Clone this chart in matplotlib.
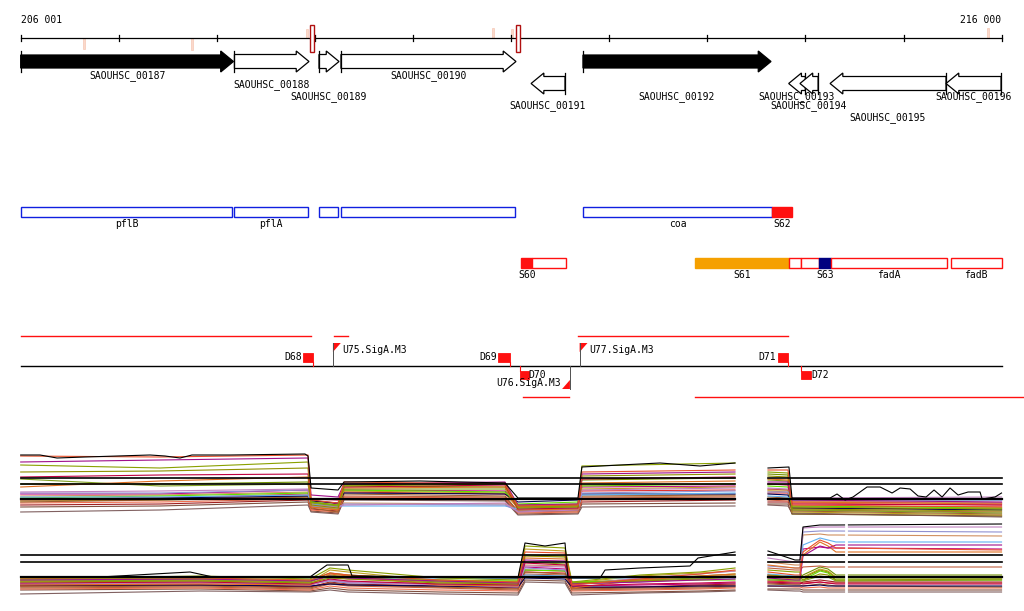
import matplotlib
matplotlib.use('Agg')
import matplotlib.pyplot as plt
from matplotlib.patches import Polygon, Rectangle

plt.rcParams['font.family'] = 'DejaVu Sans Mono'
plt.rcParams['font.size'] = 7

# ==========================================
# DATA (genome coordinates, bp)
# ==========================================
region_start, region_end = 206001, 216000
ruler_labels = ['206 001', '216 000']

# annotated genes: name, start, end, strand, filled, row, label tier
gene_names = ['SAOUHSC_00187', 'SAOUHSC_00188', 'SAOUHSC_00189', 'SAOUHSC_00190',
              'SAOUHSC_00191', 'SAOUHSC_00192', 'SAOUHSC_00193', 'SAOUHSC_00194',
              'SAOUHSC_00195', 'SAOUHSC_00196']
gene_start = [206001, 208180, 209042, 209266, 211204, 211733, 213830, 213945, 214252, 215434]
gene_end = [208170, 208940, 209246, 211050, 211550, 213650, 214000, 214130, 215434, 215995]
gene_strand = [1, 1, 1, 1, -1, 1, -1, -1, -1, -1]
gene_filled = [True, False, False, False, False, True, False, False, False, False]
gene_row = [0, 0, 0, 0, 1, 0, 1, 1, 1, 1]
gene_tier = [0, 1, 2, 0, 3, 2, 2, 3, 4, 2]

# ruler marks (light = weak signals, dark = strong)
weak_pos = [206646, 207747, 208920, 210817, 211010, 215863]
weak_height = [-11, -12, 9, 10, 9, 10]
strong_start = [208950, 211050]
strong_end = [208991, 211091]

# operon / annotation boxes
box1_start = [206001, 208172, 209039, 209266, 211737, 213663]
box1_end = [208159, 208930, 209239, 211044, 213663, 213869]
box1_label = ['pflB', 'pflA', '', '', 'coa', 'S62']
box1_fill = ['white', 'white', 'white', 'white', 'white', '#ff1010']
box1_edge = ['#1020e0', '#1020e0', '#1020e0', '#1020e0', '#1020e0', '#ff1010']

box2_start = [211104, 211217, 212875, 213833, 213956, 214136, 214261, 215481]
box2_end = [211217, 211558, 213833, 213956, 214136, 214261, 215444, 216000]
box2_label = ['S60', '', 'S61', '', '', 'S63', 'fadA', 'fadB']
box2_fill = ['#ff1010', 'white', '#f5a000', 'white', 'white', '#000080', 'white', 'white']

# transcription units
tu_top = [(206001, 208960), (209200, 209340), (211680, 213820)]
tu_bottom = [(211120, 211590), (212870, 216229)]

# terminators / promoters
term_names = ['D68', 'D69', 'D70', 'D71', 'D72']
term_start = [208880, 210870, 211090, 213720, 213960]
term_end = [208980, 210990, 211180, 213823, 214060]
term_side = [1, 1, -1, 1, -1]
prom_names = ['U75.SigA.M3', 'U76.SigA.M3', 'U77.SigA.M3']
prom_pos = [209184, 211600, 211699]
prom_strand = [1, -1, 1]

# expression profiles (plotted on inverted track scale)
line_colors = ['#000000', '#e8502a', '#a0108a', '#8aa000', '#909000', '#c00040',
               '#e07020', '#80a020', '#c080c0', '#9090d0', '#60b0f0', '#60e000',
               '#000050', '#a06030', '#c06040', '#c0a020', '#f07050', '#a02020',
               '#d09060', '#805040', '#806060', '#e03030', '#c00080', '#709000']

a_left_x = [206001, 207421, 208930, 208961, 209236, 209297, 210938, 211070, 211682, 211722, 213283]
a_left = [
    None,
    [456, 457, 455, 500, 503, 482, 484, 506, 505, 472, 470],
    [462, 460, 458, 495, 497, 484, 482, 505, 504, 474, 472],
    [465, 468, 462, 502, 505, 485, 483, 507, 506, 466, 463],
    [472, 471, 468, 505, 508, 486, 484, 508, 507, 476, 474],
    [477, 475, 474, 499, 500, 487, 485, 509, 508, 479, 477],
    [487, 481, 477, 507, 510, 488, 487, 510, 509, 483, 481],
    [479, 486, 484, 503, 506, 489, 489, 506, 505, 485, 484],
    [492, 491, 489, 505, 507, 505, 503, 512, 510, 490, 488],
    [493, 493, 490, 506, 508, 504, 505, 511, 509, 493, 491],
    [497, 497, 495, 504, 506, 506, 506, 509, 508, 495, 493],
    [498, 496, 493, 502, 505, 490, 492, 504, 502, 486, 484],
    [499, 498, 496, 501, 503, 493, 494, 502, 500, 494, 494],
    [502, 500, 497, 508, 512, 494, 496, 511, 510, 496, 495],
    [500, 499, 496, 507, 510, 496, 497, 512, 511, 498, 497],
    [501, 500, 497, 506, 509, 491, 493, 508, 507, 489, 487],
    [503, 502, 499, 510, 512, 497, 498, 513, 512, 500, 499],
    [505, 504, 500, 509, 511, 498, 499, 511, 510, 502, 500],
    [496, 495, 492, 506, 509, 503, 504, 510, 509, 497, 496],
    [507, 506, 502, 511, 513, 499, 500, 514, 513, 504, 503],
    [512, 510, 505, 512, 514, 500, 501, 515, 514, 507, 506],
    [499, 498, 494, 504, 507, 492, 494, 507, 506, 491, 490],
    [494, 494, 490, 500, 504, 490, 491, 506, 505, 487, 486],
    [484, 484, 482, 502, 506, 486, 487, 505, 504, 480, 478],
]
a_left_black_x = [206001, 206198, 206371, 206656, 207319, 207472, 207625, 207747, 208134,
                  208899, 208930, 208961, 209236, 209297, 210072, 210938, 211070, 211682,
                  211722, 212110, 212518, 212926, 213283]
a_left_black = [455, 455, 458, 457, 455, 456, 458, 455, 455, 454, 456, 488, 490, 482,
                481, 483, 498, 498, 467, 465, 463, 466, 463]

a_right_x = [213619, 213823, 213864, 216000]
a_right = [
    None,
    [470, 470, 505, 507],
    [482, 482, 500, 502],
    [472, 473, 507, 509],
    [476, 477, 509, 511],
    [484, 485, 504, 505],
    [479, 480, 502, 504],
    [480, 481, 510, 513],
    [488, 489, 498, 497],
    [492, 492, 499, 500],
    [496, 497, 500, 500],
    [486, 487, 506, 508],
    [494, 495, 508, 510],
    [497, 498, 511, 514],
    [499, 499, 510, 512],
    [490, 490, 512, 515],
    [500, 501, 503, 505],
    [502, 502, 508, 509],
    [491, 492, 501, 503],
    [504, 504, 514, 516],
    [505, 506, 513, 517],
    [493, 493, 506, 507],
    [489, 490, 502, 503],
    [474, 475, 514, 516],
]
a_right_black_x = [213619, 213833, 213864, 214252, 214323, 214405, 214486, 214629, 214762,
                   214884, 214966, 215068, 215149, 215231, 215312, 215394, 215475, 215557,
                   215659, 215781, 215802, 215934, 216000]
a_right_black = [468, 467, 498, 498, 494, 500, 497, 487, 487, 493, 488, 489, 496, 497,
                 490, 497, 488, 495, 492, 492, 499, 497, 493]

b_left_x = [206001, 207829, 208950, 209154, 209338, 210276, 211070, 211142, 211550,
            211621, 212314, 212926, 213283]
b_left = [
    None,
    [578, 578, 580, 573, 575, 580, 582, 552, 553, 585, 579, 574, 570],
    [580, 579, 581, 576, 578, 581, 583, 560, 561, 584, 582, 580, 579],
    [579, 576, 579, 568, 570, 578, 580, 546, 548, 582, 575, 572, 568],
    [582, 581, 583, 578, 579, 583, 584, 556, 557, 583, 581, 579, 577],
    [583, 582, 584, 579, 581, 584, 585, 563, 565, 586, 584, 583, 582],
    [585, 584, 585, 574, 576, 585, 586, 558, 559, 588, 580, 576, 574],
    [581, 580, 582, 575, 577, 582, 583, 562, 564, 584, 580, 578, 576],
    [584, 583, 585, 580, 582, 585, 587, 566, 567, 585, 578, 574, 571],
    [583, 582, 584, 581, 583, 584, 586, 568, 570, 584, 582, 579, 577],
    [577, 577, 578, 578, 578, 578, 579, 575, 576, 578, 578, 578, 578],
    [579, 578, 580, 576, 578, 580, 581, 570, 571, 582, 581, 580, 580],
    [585, 585, 586, 584, 585, 586, 587, 578, 579, 587, 587, 586, 586],
    [587, 586, 588, 583, 585, 587, 589, 572, 574, 589, 588, 587, 586],
    [588, 587, 589, 584, 586, 588, 590, 574, 575, 590, 589, 588, 587],
    [581, 580, 582, 570, 572, 581, 582, 549, 551, 583, 576, 573, 571],
    [589, 588, 590, 586, 588, 590, 591, 576, 577, 591, 590, 589, 588],
    [586, 585, 587, 582, 584, 586, 588, 570, 571, 588, 587, 585, 584],
    [582, 581, 583, 577, 579, 582, 584, 565, 566, 583, 581, 577, 575],
    [590, 589, 591, 588, 590, 592, 593, 580, 581, 593, 592, 591, 590],
    [594, 591, 592, 590, 592, 594, 595, 582, 583, 595, 593, 592, 591],
    [586, 585, 587, 583, 585, 587, 588, 572, 573, 588, 587, 586, 585],
    [584, 583, 585, 580, 582, 584, 585, 567, 569, 586, 585, 584, 583],
    [580, 579, 581, 573, 575, 580, 582, 555, 556, 583, 579, 576, 574],
]
b_left_black_x = [206001, 206809, 207727, 207961, 208950, 209123, 209338, 209379, 210276,
                  211070, 211142, 211346, 211550, 211580, 211907, 211958, 212314, 212824,
                  212906, 213283]
b_left_black = [577, 577, 572, 577, 577, 565, 565, 576, 577, 578, 543, 546, 543, 578,
                578, 570, 568, 566, 558, 552]

b_right_x = [213619, 213894, 213945, 213976, 214149, 214231, 214312, 216000]
b_right = [
    [551, 560, 560, 527, 525, 525, 525, 524],
    [572, 575, 575, 552, 540, 543, 548, 550],
    [578, 580, 580, 556, 546, 548, 545, 545],
    [570, 572, 572, 578, 570, 572, 578, 578],
    [575, 577, 577, 580, 574, 575, 580, 579],
    [582, 583, 583, 584, 582, 583, 584, 584],
    [565, 568, 568, 555, 542, 546, 552, 552],
    [580, 581, 581, 581, 576, 577, 581, 580],
    [558, 562, 562, 528, 527, 527, 527, 527],
    [566, 568, 568, 532, 531, 531, 531, 532],
    [574, 576, 576, 545, 538, 540, 542, 542],
    [579, 580, 580, 580, 571, 573, 580, 580],
    [586, 586, 586, 586, 585, 586, 586, 586],
    [584, 585, 585, 586, 584, 585, 586, 587],
    [568, 570, 570, 567, 566, 567, 567, 567],
    [577, 579, 579, 577, 569, 571, 577, 577],
    [586, 587, 587, 588, 587, 588, 588, 588],
    [583, 584, 584, 582, 580, 581, 582, 582],
    [562, 565, 565, 535, 534, 535, 535, 536],
    [589, 589, 589, 590, 590, 590, 590, 590],
    [590, 591, 591, 592, 592, 592, 592, 592],
    [581, 582, 582, 583, 582, 583, 583, 583],
    [575, 578, 578, 549, 547, 548, 548, 549],
    [576, 578, 578, 575, 567, 569, 575, 575],
]

thresholds_a = [478, 484, 499]
thresholds_b = [555, 562, 577]
profile_spans = [(206001, 213283), (213619, 216000)]
b_gap = 214414

# ==========================================
# LAYOUT (pixel rows of the tracks)
# ==========================================
RULER_Y = 38
ROW_Y = [61.5, 83.5]
TIER_Y = [76, 85, 97, 106, 118]
BOX1_Y, BOX2_Y, BOX_H = 207, 258, 10
MAIN_Y = 366
HEAD = 130

fig = plt.figure(figsize=(10.24, 6.11), dpi=100)
ax = fig.add_axes([0, 0, 1, 1])
ax.set_xlim(205790, 216229)
ax.set_ylim(611, 0)
ax.axis('off')

# ---- ruler
ax.plot([region_start, region_end], [RULER_Y, RULER_Y], color='black', lw=0.9)
for t in range(region_start, region_end + 2, 1000):
    ax.plot([t, t], [RULER_Y - 3, RULER_Y + 3], color='black', lw=0.9)
ax.text(region_start, 20, ruler_labels[0], ha='left', va='center')
ax.text(region_end, 20, ruler_labels[1], ha='right', va='center')
for p, h in zip(weak_pos, weak_height):
    ax.add_patch(Rectangle((p - 10, RULER_Y), 20, -h, fc='#fbd9cb', ec='#f6c8b6', lw=0.5))
for s, e in zip(strong_start, strong_end):
    ax.add_patch(Rectangle((s, 25), e - s, 27, fc='white', ec='#b01010', lw=1.0, zorder=3))

# ---- gene arrows
for name, s, e, st, filled, row, tier in zip(gene_names, gene_start, gene_end, gene_strand,
                                             gene_filled, gene_row, gene_tier):
    y = ROW_Y[row]
    bh, hh = (6.5, 10.5) if filled else (7, 10.5)
    if st > 0:
        base, tip, hb = s, e, max(s, e - HEAD)
    else:
        base, tip, hb = e, s, min(e, s + HEAD)
    pts = [(base, y - bh), (hb, y - bh), (hb, y - hh), (tip, y),
           (hb, y + hh), (hb, y + bh), (base, y + bh)]
    ax.add_patch(Polygon(pts, closed=True, fc='black' if filled else 'white',
                         ec='black', lw=0.9, zorder=2))
    ax.plot([base, base], [y - hh, y + hh], color='black', lw=0.9, zorder=2)
    ax.text((s + e) / 2, TIER_Y[tier], name, ha='center', va='center', zorder=3)

# ---- annotation boxes
for s, e, lab, fc, ec in zip(box1_start, box1_end, box1_label, box1_fill, box1_edge):
    ax.add_patch(Rectangle((s, BOX1_Y), e - s, BOX_H, fc=fc, ec=ec, lw=1.0))
    if lab:
        ax.text((s + e) / 2, BOX1_Y + 17, lab, ha='center', va='center')
for s, e, lab, fc in zip(box2_start, box2_end, box2_label, box2_fill):
    ec = fc if fc != 'white' else '#ff1010'
    ax.add_patch(Rectangle((s, BOX2_Y), e - s, BOX_H, fc=fc, ec=ec, lw=1.0))
    if lab:
        ax.text((s + e) / 2, BOX2_Y + 17, lab, ha='center', va='center')

# ---- transcription units, terminators, promoters
for s, e in tu_top:
    ax.plot([s, e], [336, 336], color='#ff1010', lw=1.0)
for s, e in tu_bottom:
    ax.plot([s, e], [397, 397], color='#ff1010', lw=1.0)
ax.plot([region_start, region_end], [MAIN_Y, MAIN_Y], color='black', lw=1.0)

for name, s, e, side in zip(term_names, term_start, term_end, term_side):
    if side > 0:
        ax.add_patch(Rectangle((s, 353), e - s, 9, fc='#ff1010', ec='#ff1010', lw=0.6))
        ax.plot([e, e], [362, MAIN_Y], color='#ff1010', lw=0.8)
        ax.text(s - 15, 357.5, name, ha='right', va='center')
    else:
        ax.add_patch(Rectangle((s, 371), e - s, 8, fc='#ff1010', ec='#ff1010', lw=0.6))
        ax.plot([s, s], [MAIN_Y, 371], color='#ff1010', lw=0.8)
        ax.text(e, 375, name, ha='left', va='center')

for name, p, st in zip(prom_names, prom_pos, prom_strand):
    if st > 0:
        ax.plot([p, p], [343, MAIN_Y], color='#505050', lw=0.7)
        ax.add_patch(Polygon([(p, 343), (p + 80, 343), (p, 352)], fc='#ff1010', ec='none'))
        ax.text(p + 95, 350, name, ha='left', va='center')
    else:
        ax.plot([p, p], [MAIN_Y, 389], color='#505050', lw=0.7)
        ax.add_patch(Polygon([(p, 389), (p - 80, 389), (p, 380)], fc='#ff1010', ec='none'))
        ax.text(p - 95, 383, name, ha='right', va='center')

# ---- expression profiles
def draw_profiles(xs, rows):
    for i in range(len(rows) - 1, -1, -1):
        if rows[i] is None:
            continue
        ax.plot(xs, rows[i], color=line_colors[i], lw=0.8, zorder=4 if i else 5)

draw_profiles(a_left_x, a_left)
ax.plot(a_left_black_x, a_left_black, color='black', lw=0.8, zorder=5)
draw_profiles(a_right_x, a_right)
ax.plot(a_right_black_x, a_right_black, color='black', lw=0.8, zorder=5)
draw_profiles(b_left_x, b_left)
ax.plot(b_left_black_x, b_left_black, color='black', lw=0.8, zorder=5)
draw_profiles(b_right_x, b_right)

for s, e in profile_spans:
    for yv in thresholds_a + thresholds_b:
        lw = 1.6 if yv in (thresholds_a[-1], thresholds_b[-1]) else 1.2
        ax.plot([s, e], [yv, yv], color='black', lw=lw, zorder=6)
ax.plot([b_gap, b_gap], [520, 600], color='white', lw=2.0, zorder=7)

fig.savefig('out.png', dpi=100)
